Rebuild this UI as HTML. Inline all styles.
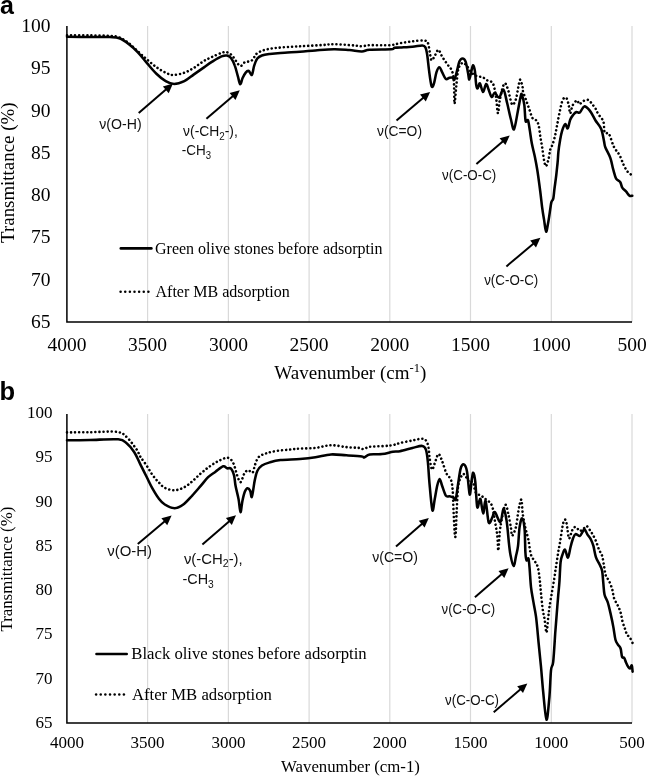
<!DOCTYPE html>
<html><head><meta charset="utf-8"><style>
html,body{margin:0;padding:0;background:#fff;}
svg{display:block;filter:grayscale(1);}

</style></head><body>
<svg width="646" height="776" viewBox="0 0 646 776">
<rect width="646" height="776" fill="#fff"/>
<text x="0" y="13.6" font-family="Liberation Sans" font-weight="bold" font-size="25">a</text>
<text x="-0.6" y="400.3" font-family="Liberation Sans" font-weight="bold" font-size="25.5">b</text>
<line x1="147.6" y1="26" x2="147.6" y2="322" stroke="#d9d9d9" stroke-width="1.2"/>
<line x1="228.4" y1="26" x2="228.4" y2="322" stroke="#d9d9d9" stroke-width="1.2"/>
<line x1="309.1" y1="26" x2="309.1" y2="322" stroke="#d9d9d9" stroke-width="1.2"/>
<line x1="389.8" y1="26" x2="389.8" y2="322" stroke="#d9d9d9" stroke-width="1.2"/>
<line x1="470.5" y1="26" x2="470.5" y2="322" stroke="#d9d9d9" stroke-width="1.2"/>
<line x1="551.3" y1="26" x2="551.3" y2="322" stroke="#d9d9d9" stroke-width="1.2"/>
<line x1="632.0" y1="26" x2="632.0" y2="322" stroke="#d9d9d9" stroke-width="1.2"/>
<path d="M67.0,35.3 C70.8,35.3 82.8,35.3 90.0,35.4 C97.2,35.5 105.1,35.6 110.0,35.9 C114.9,36.2 116.2,36.2 119.3,37.4 C122.4,38.6 125.5,40.7 128.6,43.0 C131.7,45.3 134.8,48.6 137.9,51.4 C141.0,54.2 144.1,57.1 147.2,59.7 C150.3,62.3 153.3,65.0 156.4,67.2 C159.5,69.4 162.9,71.4 165.7,72.7 C168.5,74.0 170.1,75.0 173.2,75.0 C176.3,75.0 180.9,73.9 184.3,72.7 C187.7,71.5 190.5,69.9 193.6,68.1 C196.7,66.2 199.8,63.5 202.9,61.6 C206.0,59.7 208.8,58.5 212.2,56.9 C215.6,55.3 220.6,53.0 223.3,52.3 C226.0,51.6 226.9,52.1 228.6,52.9 C230.3,53.7 231.4,54.9 233.3,57.1 C235.2,59.3 238.1,65.1 240.0,65.9 C241.9,66.8 243.1,63.0 244.9,62.2 C246.8,61.4 249.6,61.9 251.1,61.0 C252.6,60.1 253.2,58.4 254.2,57.1 C255.2,55.8 255.5,54.4 257.3,53.2 C259.1,52.0 261.6,50.7 265.0,49.8 C268.4,48.9 271.6,48.4 277.4,47.8 C283.2,47.2 292.4,46.8 300.0,46.3 C307.6,45.8 317.3,45.4 323.0,45.0 C328.7,44.6 328.8,44.1 334.0,44.2 C339.2,44.3 349.3,45.1 354.0,45.5 C358.7,45.9 359.4,46.3 362.0,46.3 C364.6,46.2 365.1,45.4 369.7,45.2 C374.3,45.0 384.8,45.5 389.8,45.2 C394.9,44.9 396.2,43.8 400.0,43.2 C403.8,42.6 408.4,41.9 412.4,41.4 C416.4,40.9 421.5,40.2 424.1,40.5 C426.7,40.8 427.0,41.1 427.9,43.0 C428.8,44.9 429.1,48.8 429.7,51.7 C430.3,54.6 430.7,59.8 431.6,60.3 C432.5,60.8 434.2,56.5 435.3,54.8 C436.4,53.0 437.3,49.5 438.4,49.8 C439.5,50.1 440.7,54.2 442.1,56.6 C443.6,59.0 445.5,61.6 447.1,64.0 C448.8,66.4 450.9,67.9 452.0,70.9 C453.1,73.9 453.5,76.5 453.9,82.0 C454.3,87.5 454.1,103.1 454.5,103.7 C454.9,104.3 455.7,91.4 456.3,85.7 C456.9,80.0 457.5,73.1 458.2,69.6 C458.9,66.1 459.9,65.8 460.7,64.7 C461.5,63.6 462.2,62.6 463.2,62.8 C464.2,63.0 465.6,64.4 466.9,65.9 C468.2,67.4 469.4,70.3 471.0,72.0 C472.6,73.7 474.3,75.1 476.2,76.0 C478.1,76.9 480.5,76.5 482.4,77.2 C484.2,77.9 485.6,79.3 487.3,80.3 C489.1,81.3 491.4,80.6 492.9,83.4 C494.3,86.2 495.2,92.0 496.0,97.0 C496.8,102.0 497.3,112.6 497.9,113.2 C498.5,113.8 498.9,105.1 499.7,100.8 C500.5,96.5 501.9,90.1 502.8,87.2 C503.7,84.3 504.4,82.8 505.3,83.4 C506.2,84.0 507.3,87.4 508.4,90.9 C509.5,94.4 510.9,103.1 512.1,104.5 C513.3,105.9 514.8,102.4 515.8,99.5 C516.8,96.6 517.6,90.5 518.3,87.2 C519.0,83.9 519.5,79.7 520.2,79.7 C520.9,79.7 522.1,85.2 522.6,87.2 C523.1,89.2 522.5,89.7 523.1,91.9 C523.7,94.1 525.2,97.6 526.2,100.5 C527.2,103.4 528.3,106.3 529.3,109.2 C530.3,112.1 531.3,116.1 532.4,117.9 C533.5,119.8 535.1,119.1 536.1,120.3 C537.1,121.5 537.9,122.5 538.6,125.3 C539.3,128.1 539.8,133.3 540.4,137.1 C541.0,140.9 541.7,144.3 542.3,148.2 C542.9,152.1 543.5,157.6 544.1,160.6 C544.7,163.6 545.3,166.4 546.0,166.2 C546.7,166.0 547.8,162.1 548.5,159.3 C549.2,156.5 549.6,152.0 550.3,149.4 C551.0,146.8 552.0,146.4 552.8,143.9 C553.6,141.4 554.6,137.8 555.3,134.6 C556.0,131.4 556.5,128.4 557.2,124.7 C557.9,121.0 558.7,116.4 559.6,112.3 C560.5,108.2 561.6,102.3 562.7,99.9 C563.8,97.5 565.4,97.0 566.4,98.0 C567.4,99.0 568.3,103.5 568.9,106.1 C569.5,108.7 569.6,113.6 570.2,113.5 C570.8,113.4 571.5,107.7 572.6,105.5 C573.7,103.3 575.9,100.7 577.0,100.5 C578.1,100.3 578.4,104.1 579.4,104.2 C580.4,104.3 581.8,101.8 583.2,101.1 C584.7,100.4 586.7,99.5 588.1,99.9 C589.5,100.3 590.6,102.1 591.8,103.6 C593.0,105.0 594.4,106.8 595.5,108.6 C596.6,110.4 597.0,112.1 598.3,114.2 C599.6,116.3 602.2,118.2 603.3,121.3 C604.4,124.4 603.8,130.5 604.7,132.6 C605.7,134.7 607.5,131.6 609.0,134.0 C610.5,136.4 612.1,143.2 613.9,146.8 C615.7,150.4 618.0,152.2 619.6,155.3 C621.2,158.4 622.4,162.4 623.8,165.2 C625.2,168.0 626.7,170.7 628.1,172.3 C629.5,174.0 631.6,174.6 632.3,175.1" fill="none" stroke="#000" stroke-width="2.6" stroke-dasharray="0.01 4.05" stroke-linecap="round" stroke-linejoin="round"/>
<path d="M67.0,36.8 C70.8,36.8 82.8,37.0 90.0,37.0 C97.2,37.0 105.1,36.9 110.0,37.1 C114.9,37.3 116.2,37.1 119.3,38.2 C122.4,39.3 125.5,41.5 128.6,43.9 C131.7,46.2 134.8,49.0 137.9,52.3 C141.0,55.5 144.1,59.8 147.2,63.4 C150.3,67.0 153.3,70.8 156.4,73.7 C159.5,76.7 162.8,79.4 165.7,81.1 C168.6,82.8 171.0,83.9 174.1,83.9 C177.2,83.9 181.1,82.6 184.3,81.1 C187.6,79.5 190.5,76.8 193.6,74.6 C196.7,72.4 199.8,70.3 202.9,68.1 C206.0,65.9 209.1,63.5 212.2,61.6 C215.3,59.7 219.0,57.4 221.5,56.4 C224.0,55.4 225.4,55.2 227.0,55.5 C228.6,55.8 229.7,56.2 231.0,57.9 C232.3,59.6 233.7,62.5 234.8,65.6 C236.0,68.7 237.0,73.3 237.9,76.4 C238.8,79.5 239.4,83.9 240.2,84.2 C241.0,84.5 241.7,79.9 242.6,78.0 C243.5,76.1 244.7,73.8 245.7,72.6 C246.7,71.4 247.8,70.6 248.8,71.0 C249.8,71.4 251.0,75.8 251.9,74.9 C252.8,74.0 253.3,68.3 254.2,65.6 C255.1,62.9 256.0,60.3 257.3,58.6 C258.6,56.9 259.8,56.3 261.9,55.5 C264.0,54.7 266.6,54.4 269.7,54.0 C272.8,53.6 275.4,53.3 280.5,52.9 C285.6,52.5 294.2,52.1 300.0,51.7 C305.8,51.3 309.8,50.8 315.5,50.4 C321.2,50.0 328.3,49.3 334.0,49.3 C339.7,49.2 344.9,49.8 349.5,50.1 C354.1,50.5 358.5,51.5 361.9,51.4 C365.3,51.3 364.8,50.1 369.7,49.8 C374.6,49.4 387.2,49.6 391.3,49.3 C395.4,49.0 392.9,48.1 394.4,47.8 C395.8,47.5 397.0,47.7 400.0,47.5 C403.0,47.3 408.7,47.0 412.4,46.7 C416.1,46.4 420.1,45.4 422.3,45.5 C424.5,45.6 424.6,45.8 425.4,47.3 C426.2,48.8 426.6,50.9 427.2,54.8 C427.8,58.7 428.4,65.7 429.1,70.9 C429.8,76.2 430.8,84.2 431.6,86.3 C432.4,88.4 433.2,85.7 434.0,83.3 C434.8,80.9 435.6,74.8 436.5,72.1 C437.4,69.4 438.5,67.2 439.4,67.2 C440.3,67.2 441.0,70.1 442.1,72.1 C443.2,74.0 444.6,78.0 445.8,78.9 C447.0,79.8 448.4,77.9 449.5,77.7 C450.6,77.5 451.8,77.4 452.6,77.7 C453.4,78.0 453.8,80.6 454.5,79.5 C455.2,78.4 456.2,73.9 457.0,70.9 C457.8,67.9 458.5,63.7 459.4,61.6 C460.3,59.5 461.5,58.5 462.5,58.5 C463.5,58.5 464.7,59.1 465.6,61.6 C466.5,64.1 467.5,70.3 468.1,73.3 C468.7,76.3 468.8,79.7 469.3,79.5 C469.8,79.3 470.6,74.5 471.2,72.1 C471.8,69.7 472.4,65.5 473.0,65.3 C473.6,65.1 474.4,67.7 474.9,70.9 C475.4,74.1 475.7,81.8 476.2,84.7 C476.7,87.6 477.1,88.6 477.7,88.4 C478.3,88.2 479.0,82.8 479.9,83.4 C480.8,84.0 482.0,92.0 483.0,92.1 C484.0,92.2 485.2,84.4 486.1,84.0 C487.0,83.6 487.7,87.4 488.6,89.6 C489.5,91.8 490.7,96.5 491.7,97.0 C492.7,97.5 493.6,92.6 494.8,92.7 C496.0,92.8 497.7,98.2 499.1,97.7 C500.5,97.2 502.0,88.7 503.4,89.6 C504.8,90.5 505.9,98.3 507.2,103.3 C508.4,108.2 509.8,115.0 510.9,119.3 C512.0,123.6 512.9,130.5 514.0,129.3 C515.1,128.1 516.6,117.5 517.7,111.9 C518.8,106.4 520.1,98.8 520.8,96.0 C521.5,93.2 521.3,93.5 521.9,95.0 C522.5,96.5 523.7,100.6 524.3,104.9 C524.9,109.2 525.0,118.4 525.6,121.0 C526.2,123.6 527.3,118.6 528.0,120.3 C528.7,122.0 529.3,127.1 529.9,130.9 C530.5,134.7 531.0,139.0 531.8,143.3 C532.6,147.6 534.0,152.5 534.9,156.9 C535.8,161.3 536.4,164.3 537.3,170.0 C538.2,175.7 539.4,184.8 540.2,191.0 C541.0,197.2 541.5,202.4 542.1,207.1 C542.7,211.8 543.3,215.3 544.0,219.4 C544.7,223.5 545.4,231.2 546.1,231.6 C546.8,232.0 547.6,225.6 548.3,221.9 C549.0,218.2 549.7,212.8 550.2,209.5 C550.7,206.2 550.9,203.9 551.4,202.1 C551.9,200.2 552.8,200.7 553.3,198.4 C553.8,196.1 554.0,192.4 554.5,188.5 C555.0,184.6 555.8,179.2 556.3,174.9 C556.8,170.6 557.2,166.3 557.6,162.5 C558.0,158.7 558.0,155.7 558.4,151.9 C558.8,148.1 559.6,143.0 560.2,139.5 C560.8,136.0 561.3,133.5 562.1,130.9 C562.9,128.3 564.3,124.5 565.2,124.1 C566.1,123.7 566.9,129.1 567.7,128.4 C568.5,127.7 569.3,122.0 570.2,119.7 C571.1,117.4 572.3,116.1 573.3,114.8 C574.3,113.5 575.3,112.4 576.4,112.0 C577.5,111.6 578.6,113.4 579.9,112.5 C581.2,111.6 582.6,106.7 584.2,106.4 C585.9,106.1 587.9,108.2 589.8,110.6 C591.7,112.9 593.6,117.4 595.5,120.5 C597.4,123.6 599.8,125.6 601.2,129.0 C602.6,132.4 603.3,138.0 604.0,141.1 C604.7,144.2 604.3,144.7 605.4,147.5 C606.5,150.3 609.1,154.4 610.4,158.1 C611.7,161.8 612.2,166.0 613.2,169.4 C614.2,172.8 614.9,176.5 616.1,178.6 C617.3,180.7 619.2,180.6 620.3,182.2 C621.3,183.8 621.4,186.4 622.4,187.9 C623.4,189.4 624.8,190.1 626.0,191.4 C627.2,192.7 628.5,195.0 629.5,195.7 C630.5,196.4 631.8,195.7 632.3,195.7" fill="none" stroke="#000" stroke-width="2.55" stroke-linejoin="round" stroke-linecap="round"/>
<path d="M66.9,26 L66.9,322 L632.0,322" fill="none" stroke="#000" stroke-width="1.5"/>
<text x="50.5" y="31.9" text-anchor="end" font-family="Liberation Serif" font-size="19.5">100</text>
<text x="50.5" y="74.2" text-anchor="end" font-family="Liberation Serif" font-size="19.5">95</text>
<text x="50.5" y="116.5" text-anchor="end" font-family="Liberation Serif" font-size="19.5">90</text>
<text x="50.5" y="158.8" text-anchor="end" font-family="Liberation Serif" font-size="19.5">85</text>
<text x="50.5" y="201.1" text-anchor="end" font-family="Liberation Serif" font-size="19.5">80</text>
<text x="50.5" y="243.3" text-anchor="end" font-family="Liberation Serif" font-size="19.5">75</text>
<text x="50.5" y="285.6" text-anchor="end" font-family="Liberation Serif" font-size="19.5">70</text>
<text x="50.5" y="327.9" text-anchor="end" font-family="Liberation Serif" font-size="19.5">65</text>
<text x="66.9" y="351.3" text-anchor="middle" font-family="Liberation Serif" font-size="19.5">4000</text>
<text x="147.6" y="351.3" text-anchor="middle" font-family="Liberation Serif" font-size="19.5">3500</text>
<text x="228.4" y="351.3" text-anchor="middle" font-family="Liberation Serif" font-size="19.5">3000</text>
<text x="309.1" y="351.3" text-anchor="middle" font-family="Liberation Serif" font-size="19.5">2500</text>
<text x="389.8" y="351.3" text-anchor="middle" font-family="Liberation Serif" font-size="19.5">2000</text>
<text x="470.5" y="351.3" text-anchor="middle" font-family="Liberation Serif" font-size="19.5">1500</text>
<text x="551.3" y="351.3" text-anchor="middle" font-family="Liberation Serif" font-size="19.5">1000</text>
<text x="632.0" y="351.3" text-anchor="middle" font-family="Liberation Serif" font-size="19.5">500</text>
<line x1="147.6" y1="414" x2="147.6" y2="723" stroke="#d9d9d9" stroke-width="1.2"/>
<line x1="228.4" y1="414" x2="228.4" y2="723" stroke="#d9d9d9" stroke-width="1.2"/>
<line x1="309.1" y1="414" x2="309.1" y2="723" stroke="#d9d9d9" stroke-width="1.2"/>
<line x1="389.8" y1="414" x2="389.8" y2="723" stroke="#d9d9d9" stroke-width="1.2"/>
<line x1="470.5" y1="414" x2="470.5" y2="723" stroke="#d9d9d9" stroke-width="1.2"/>
<line x1="551.3" y1="414" x2="551.3" y2="723" stroke="#d9d9d9" stroke-width="1.2"/>
<line x1="632.0" y1="414" x2="632.0" y2="723" stroke="#d9d9d9" stroke-width="1.2"/>
<path d="M67.0,432.4 C70.8,432.4 81.7,432.3 90.0,432.2 C98.3,432.1 110.8,431.0 117.0,431.9 C123.2,432.8 123.6,434.3 126.9,437.3 C130.2,440.3 134.6,446.6 136.8,449.7 C139.0,452.8 138.4,453.7 140.0,456.2 C141.6,458.7 144.1,461.8 146.2,464.9 C148.3,468.0 150.3,471.9 152.4,474.8 C154.5,477.7 156.5,480.0 158.6,482.2 C160.7,484.4 162.2,486.5 164.8,487.8 C167.4,489.1 171.0,490.2 174.1,490.2 C177.2,490.2 180.3,489.2 183.3,487.8 C186.3,486.4 189.1,484.0 192.0,481.6 C194.9,479.2 197.8,476.0 200.7,473.5 C203.6,471.0 206.3,468.8 209.3,466.7 C212.3,464.6 215.5,462.4 218.6,460.9 C221.7,459.4 225.4,457.4 227.9,457.8 C230.4,458.2 231.8,460.2 233.3,463.2 C234.9,466.2 236.0,472.5 237.2,475.6 C238.4,478.8 239.4,482.4 240.6,482.1 C241.8,481.8 242.9,476.0 244.1,474.0 C245.3,472.0 246.6,470.4 248.0,470.2 C249.4,469.9 251.4,473.4 252.6,472.5 C253.8,471.6 254.0,467.4 255.0,464.8 C256.0,462.2 256.9,458.9 258.8,457.0 C260.7,455.1 263.5,454.2 266.6,453.2 C269.7,452.2 273.5,451.4 277.4,450.8 C281.3,450.2 286.0,450.0 289.8,449.6 C293.6,449.2 295.7,448.9 300.0,448.6 C304.3,448.3 310.3,448.5 315.5,447.9 C320.7,447.3 325.9,445.3 331.0,445.2 C336.1,445.1 341.8,446.7 346.4,447.1 C351.0,447.6 355.9,447.6 358.8,447.9 C361.7,448.2 362.0,449.3 363.8,449.1 C365.6,448.9 366.1,447.3 369.7,446.8 C373.2,446.3 381.2,446.3 385.1,446.0 C389.0,445.7 390.4,445.6 392.9,445.1 C395.4,444.6 396.8,443.8 400.0,443.0 C403.2,442.2 408.8,441.2 412.4,440.5 C416.0,439.8 419.4,438.7 421.7,438.7 C424.0,438.7 424.9,439.1 426.0,440.5 C427.1,441.9 427.9,444.3 428.5,447.3 C429.1,450.3 429.1,454.8 429.7,458.5 C430.3,462.2 431.2,468.8 432.0,469.6 C432.8,470.4 433.6,466.0 434.7,463.4 C435.8,460.8 437.2,454.5 438.4,454.1 C439.6,453.7 440.8,457.8 442.1,461.0 C443.4,464.2 444.9,470.2 446.4,473.3 C447.8,476.4 449.8,476.8 450.8,479.5 C451.8,482.2 452.2,484.3 452.6,489.4 C453.1,494.5 453.1,502.1 453.5,510.0 C453.9,517.9 454.7,538.0 455.3,537.0 C455.9,536.0 456.5,512.9 457.0,504.3 C457.5,495.8 457.6,490.1 458.2,485.7 C458.8,481.3 459.8,479.6 460.7,477.7 C461.6,475.8 462.4,473.3 463.8,474.0 C465.2,474.7 467.8,480.7 469.3,482.0 C470.8,483.3 471.9,480.3 473.0,482.0 C474.1,483.7 474.4,490.1 475.7,492.4 C477.0,494.6 479.1,494.5 480.7,495.5 C482.2,496.5 483.1,497.0 485.0,498.6 C486.9,500.2 490.2,501.7 491.8,505.4 C493.4,509.1 494.0,515.8 494.9,520.9 C495.8,526.0 496.7,530.8 497.3,535.7 C497.9,540.7 497.9,551.2 498.3,550.6 C498.7,550.0 499.2,537.2 499.8,532.0 C500.4,526.8 500.8,524.1 501.7,519.6 C502.6,515.1 504.3,505.6 505.4,504.8 C506.5,504.0 507.6,510.8 508.5,514.7 C509.4,518.6 510.4,524.8 511.0,528.3 C511.6,531.8 511.4,535.9 512.2,535.7 C513.0,535.5 515.0,530.6 515.9,527.1 C516.8,523.6 517.2,518.4 517.8,514.7 C518.4,511.0 519.0,507.3 519.6,504.8 C520.2,502.3 521.0,498.4 521.5,499.8 C522.0,501.2 522.1,508.8 522.7,513.4 C523.3,517.9 524.3,522.8 525.2,527.1 C526.1,531.4 527.3,534.8 528.3,539.4 C529.3,544.0 529.9,551.3 531.0,554.9 C532.1,558.5 533.6,559.0 534.7,561.1 C535.8,563.2 537.0,564.3 537.8,567.2 C538.6,570.1 539.1,574.3 539.6,578.4 C540.1,582.5 540.4,586.9 540.9,592.0 C541.4,597.1 542.1,604.8 542.7,609.3 C543.3,613.8 544.0,615.4 544.6,619.3 C545.2,623.2 545.9,633.0 546.5,632.6 C547.1,632.2 547.8,621.1 548.3,616.8 C548.8,612.5 548.9,611.0 549.5,606.9 C550.1,602.8 551.2,597.0 552.0,592.0 C552.8,587.0 553.8,581.7 554.5,577.2 C555.2,572.7 555.7,568.9 556.3,564.8 C556.9,560.7 557.6,556.2 558.2,552.4 C558.8,548.6 559.3,546.7 560.1,541.9 C560.9,537.1 562.2,527.3 563.1,523.6 C564.0,519.9 564.9,519.1 565.6,519.9 C566.3,520.7 566.9,525.5 567.4,528.6 C567.9,531.7 568.3,537.7 568.9,538.5 C569.5,539.3 570.4,535.1 571.1,533.5 C571.8,531.9 572.2,529.7 573.0,528.6 C573.8,527.5 575.0,526.7 576.1,527.1 C577.2,527.5 578.6,530.8 579.8,531.0 C581.0,531.2 582.4,529.4 583.5,528.6 C584.6,527.8 585.6,525.9 586.6,526.1 C587.6,526.3 588.7,528.3 589.7,529.8 C590.7,531.2 591.8,532.9 592.8,534.8 C593.8,536.7 594.9,538.5 595.9,541.0 C596.9,543.5 598.0,547.1 599.0,549.6 C600.0,552.1 601.3,553.1 602.1,555.8 C602.9,558.5 603.4,562.4 604.0,565.7 C604.6,569.0 605.0,573.1 605.8,575.6 C606.6,578.1 607.8,578.3 608.9,580.6 C610.0,582.9 611.3,586.3 612.2,589.3 C613.1,592.2 613.1,595.5 614.1,598.3 C615.1,601.1 616.9,603.6 618.0,606.0 C619.1,608.4 619.9,609.9 620.6,612.5 C621.4,615.1 621.8,618.7 622.5,621.5 C623.2,624.3 624.4,627.1 625.1,629.2 C625.9,631.4 626.1,632.9 627.0,634.4 C627.9,635.9 629.3,636.8 630.2,638.2 C631.1,639.7 632.2,642.3 632.6,643.1" fill="none" stroke="#000" stroke-width="2.6" stroke-dasharray="0.01 4.05" stroke-linecap="round" stroke-linejoin="round"/>
<path d="M67.0,440.3 C70.8,440.2 81.5,440.2 90.0,440.0 C98.5,439.8 112.0,438.7 118.2,439.3 C124.4,439.9 124.2,441.4 126.9,443.5 C129.6,445.6 132.1,448.8 134.3,452.2 C136.5,455.6 138.0,459.6 140.0,463.6 C142.0,467.6 144.1,471.9 146.2,476.0 C148.3,480.1 150.3,484.7 152.4,488.4 C154.5,492.1 156.5,495.6 158.6,498.3 C160.7,501.0 162.1,502.9 164.8,504.5 C167.5,506.1 171.6,508.2 174.7,508.2 C177.8,508.2 180.4,506.6 183.3,504.5 C186.2,502.4 189.1,498.9 192.0,495.8 C194.9,492.7 198.0,489.0 200.7,485.9 C203.4,482.8 205.6,479.6 208.1,477.2 C210.6,474.8 213.0,473.5 215.5,471.7 C218.0,469.9 221.3,466.9 223.2,466.3 C225.1,465.7 225.8,467.9 227.1,468.3 C228.4,468.7 229.8,467.4 231.0,468.6 C232.2,469.8 233.3,472.8 234.1,475.6 C234.8,478.4 234.8,481.5 235.5,485.5 C236.2,489.5 237.8,494.9 238.6,499.4 C239.4,503.8 239.9,511.9 240.5,512.2 C241.1,512.5 241.7,504.4 242.4,501.0 C243.1,497.6 244.0,493.8 244.8,491.7 C245.7,489.6 246.6,488.3 247.5,488.2 C248.4,488.1 249.5,489.4 250.2,490.9 C250.9,492.4 251.2,497.4 251.7,497.1 C252.2,496.8 252.8,492.1 253.3,489.3 C253.8,486.5 254.1,483.2 254.8,480.1 C255.5,477.1 256.1,473.4 257.3,471.0 C258.5,468.6 259.8,466.9 261.9,465.5 C264.0,464.1 266.6,463.3 269.7,462.4 C272.8,461.5 275.4,460.7 280.5,460.1 C285.6,459.5 294.2,459.5 300.0,459.0 C305.8,458.5 310.3,458.0 315.5,457.2 C320.7,456.4 325.9,454.7 331.0,454.4 C336.1,454.1 341.2,455.0 346.4,455.3 C351.5,455.6 358.9,456.0 361.9,456.4 C364.9,456.8 362.9,457.8 364.2,457.5 C365.5,457.2 366.7,455.0 369.7,454.4 C372.7,453.8 378.1,454.6 382.0,454.1 C385.9,453.7 389.9,452.2 392.9,451.7 C395.9,451.2 396.8,451.8 400.0,451.2 C403.2,450.6 408.7,448.9 412.4,448.0 C416.1,447.1 420.0,445.6 422.3,445.9 C424.6,446.2 425.1,447.1 426.0,449.8 C426.9,452.5 427.3,456.2 427.9,462.2 C428.5,468.2 428.9,477.7 429.7,485.7 C430.4,493.7 431.6,508.0 432.4,510.3 C433.2,512.6 433.9,503.4 434.7,499.3 C435.5,495.2 436.4,489.1 437.2,485.7 C438.0,482.3 438.8,478.9 439.6,478.9 C440.4,478.9 441.1,482.9 442.1,485.7 C443.1,488.5 444.6,493.8 445.8,495.6 C447.0,497.4 448.2,496.0 449.5,496.3 C450.8,496.6 452.3,497.0 453.3,497.5 C454.3,498.0 454.9,501.7 455.7,499.3 C456.5,496.9 457.4,488.5 458.2,483.3 C459.0,478.1 459.8,471.5 460.7,468.4 C461.6,465.2 462.8,464.0 463.8,464.4 C464.8,464.8 466.1,467.1 466.9,470.9 C467.7,474.7 468.2,483.1 468.7,487.0 C469.2,490.9 469.5,495.6 470.0,494.4 C470.5,493.1 471.2,483.1 471.8,479.5 C472.4,475.9 472.7,472.3 473.3,472.7 C473.9,473.1 474.7,476.3 475.3,482.0 C475.9,487.7 476.5,503.8 477.2,507.0 C477.9,510.2 478.7,502.2 479.3,501.0 C479.9,499.8 480.1,497.7 480.7,499.8 C481.3,501.9 482.4,513.2 483.2,513.4 C484.0,513.6 484.7,499.5 485.6,501.0 C486.5,502.5 487.6,519.8 488.7,522.5 C489.8,525.2 491.4,518.9 492.4,517.2 C493.4,515.5 493.6,511.4 494.9,512.2 C496.2,513.0 499.0,522.7 500.4,522.1 C501.8,521.5 502.5,508.7 503.5,508.5 C504.5,508.3 505.7,515.5 506.6,520.9 C507.5,526.3 508.1,535.3 508.7,541.0 C509.3,546.7 509.7,550.8 510.5,555.0 C511.3,559.2 512.7,565.8 513.6,566.0 C514.5,566.2 515.3,559.3 516.0,556.0 C516.7,552.7 517.4,551.0 518.0,546.2 C518.6,541.4 518.9,531.7 519.6,527.1 C520.3,522.5 521.3,518.0 522.1,518.4 C522.9,518.8 524.1,523.8 524.6,529.5 C525.1,535.2 525.1,547.2 525.4,552.4 C525.7,557.5 526.1,559.4 526.6,560.4 C527.1,561.4 528.0,557.0 528.5,558.6 C529.0,560.2 529.3,565.0 529.7,569.7 C530.1,574.5 530.4,581.7 531.0,587.1 C531.6,592.5 532.6,597.0 533.4,601.9 C534.2,606.8 535.1,610.1 536.0,616.7 C536.9,623.4 537.7,633.4 538.5,641.8 C539.3,650.2 540.2,658.5 541.0,666.9 C541.8,675.3 542.3,683.2 543.2,692.0 C544.1,700.8 545.5,718.9 546.5,719.7 C547.5,720.6 548.6,705.3 549.4,697.1 C550.1,688.9 550.4,676.2 551.0,670.3 C551.6,664.4 552.5,668.0 553.2,661.9 C553.9,655.8 554.7,641.0 555.2,633.5 C555.8,626.0 556.0,623.1 556.5,616.8 C557.0,610.5 557.7,601.5 558.2,595.7 C558.7,589.9 559.0,587.7 559.4,582.1 C559.8,576.5 560.1,566.6 560.6,562.0 C561.1,557.4 561.8,556.7 562.5,554.6 C563.2,552.5 564.1,549.1 565.0,549.6 C565.9,550.1 567.1,558.1 568.0,557.7 C568.9,557.3 569.7,550.4 570.5,547.2 C571.3,544.0 572.2,540.7 573.0,538.5 C573.8,536.3 574.4,534.5 575.5,534.1 C576.6,533.7 578.7,536.3 579.8,536.0 C580.9,535.7 581.5,533.4 582.3,532.3 C583.1,531.2 583.7,528.9 584.5,529.2 C585.3,529.5 586.1,532.4 587.2,534.1 C588.3,535.9 590.0,537.7 591.0,539.7 C592.0,541.7 592.6,543.0 593.4,545.9 C594.2,548.8 594.9,554.0 595.9,557.1 C596.9,560.2 598.6,562.2 599.6,564.5 C600.6,566.8 601.5,567.6 602.1,570.7 C602.7,573.8 602.9,578.9 603.3,582.9 C603.7,586.9 603.8,591.3 604.5,594.5 C605.2,597.7 606.6,598.8 607.7,602.2 C608.8,605.6 609.9,610.8 610.9,615.1 C611.9,619.4 612.8,623.8 613.5,627.9 C614.2,632.0 614.7,636.7 615.4,639.5 C616.1,642.3 617.0,643.1 617.9,644.6 C618.8,646.1 619.9,646.4 620.6,648.5 C621.3,650.6 621.5,655.5 622.1,657.0 C622.7,658.5 623.5,656.9 624.1,657.8 C624.8,658.7 625.3,660.8 626.0,662.4 C626.7,664.0 627.6,666.1 628.3,667.1 C629.0,668.1 629.6,668.6 630.2,668.3 C630.8,668.0 631.4,664.9 631.8,665.5 C632.2,666.1 632.5,670.7 632.6,671.7" fill="none" stroke="#000" stroke-width="2.55" stroke-linejoin="round" stroke-linecap="round"/>
<path d="M66.9,414 L66.9,723 L632.0,723" fill="none" stroke="#000" stroke-width="1.5"/>
<text x="52.5" y="417.9" text-anchor="end" font-family="Liberation Serif" font-size="17">100</text>
<text x="52.5" y="462.2" text-anchor="end" font-family="Liberation Serif" font-size="17">95</text>
<text x="52.5" y="506.5" text-anchor="end" font-family="Liberation Serif" font-size="17">90</text>
<text x="52.5" y="550.8" text-anchor="end" font-family="Liberation Serif" font-size="17">85</text>
<text x="52.5" y="595.1" text-anchor="end" font-family="Liberation Serif" font-size="17">80</text>
<text x="52.5" y="639.3" text-anchor="end" font-family="Liberation Serif" font-size="17">75</text>
<text x="52.5" y="683.6" text-anchor="end" font-family="Liberation Serif" font-size="17">70</text>
<text x="52.5" y="727.9" text-anchor="end" font-family="Liberation Serif" font-size="17">65</text>
<text x="66.9" y="748" text-anchor="middle" font-family="Liberation Serif" font-size="17">4000</text>
<text x="147.6" y="748" text-anchor="middle" font-family="Liberation Serif" font-size="17">3500</text>
<text x="228.4" y="748" text-anchor="middle" font-family="Liberation Serif" font-size="17">3000</text>
<text x="309.1" y="748" text-anchor="middle" font-family="Liberation Serif" font-size="17">2500</text>
<text x="389.8" y="748" text-anchor="middle" font-family="Liberation Serif" font-size="17">2000</text>
<text x="470.5" y="748" text-anchor="middle" font-family="Liberation Serif" font-size="17">1500</text>
<text x="551.3" y="748" text-anchor="middle" font-family="Liberation Serif" font-size="17">1000</text>
<text x="632.0" y="748" text-anchor="middle" font-family="Liberation Serif" font-size="17">500</text>
<text x="350.3" y="378.7" text-anchor="middle" font-family="Liberation Serif" font-size="19">Wavenumber (cm<tspan font-size="12.5" dy="-7">-1</tspan><tspan dy="7">)</tspan></text>
<text x="350.5" y="772.4" text-anchor="middle" font-family="Liberation Serif" font-size="16.8">Wavenumber (cm-1)</text>
<text transform="translate(14.2,172.7) rotate(-90)" text-anchor="middle" font-family="Liberation Serif" font-size="18.9">Transmittance (%)</text>
<text transform="translate(12.3,569.1) rotate(-90)" text-anchor="middle" font-family="Liberation Serif" font-size="16.8">Transmittance (%)</text>
<line x1="120.8" y1="248.4" x2="151.4" y2="248.4" stroke="#000" stroke-width="2.6" stroke-linecap="round"/>
<text x="155" y="253.8" font-family="Liberation Serif" font-size="16">Green olive stones before adsorptin</text>
<circle cx="120.60" cy="291.7" r="1.25"/><circle cx="125.23" cy="291.7" r="1.25"/><circle cx="129.87" cy="291.7" r="1.25"/><circle cx="134.50" cy="291.7" r="1.25"/><circle cx="139.13" cy="291.7" r="1.25"/><circle cx="143.76" cy="291.7" r="1.25"/><circle cx="148.40" cy="291.7" r="1.25"/>
<text x="155.5" y="297.3" font-family="Liberation Serif" font-size="16">After MB adsorption</text>
<line x1="96.5" y1="654" x2="126.7" y2="654" stroke="#000" stroke-width="2.6" stroke-linecap="round"/>
<text x="131.3" y="659.1" font-family="Liberation Serif" font-size="16.7">Black olive stones before adsorptin</text>
<circle cx="96.10" cy="694.4" r="1.25"/><circle cx="100.73" cy="694.4" r="1.25"/><circle cx="105.37" cy="694.4" r="1.25"/><circle cx="110.00" cy="694.4" r="1.25"/><circle cx="114.63" cy="694.4" r="1.25"/><circle cx="119.26" cy="694.4" r="1.25"/><circle cx="123.90" cy="694.4" r="1.25"/>
<text x="131.9" y="699.8" font-family="Liberation Serif" font-size="16.7">After MB adsorption</text>
<line x1="138.7" y1="113.0" x2="166.5" y2="89.1" stroke="#000" stroke-width="2.0"/><path d="M173.0,83.6 L168.7,93.2 L162.9,86.4 Z" fill="#000"/>
<text transform="translate(99.30,128.80) scale(0.9952,1)" font-family="Liberation Sans" font-size="14.2" fill="#111">ν(O-H)</text>
<line x1="206.4" y1="118.7" x2="233.3" y2="95.8" stroke="#000" stroke-width="2.0"/><path d="M239.8,90.3 L235.5,99.9 L229.6,93.0 Z" fill="#000"/>
<text transform="translate(183.10,136.00) scale(0.9764,1)" font-family="Liberation Sans" font-size="14.2" fill="#111">ν(-CH<tspan font-size="10.08" dy="3.55">2</tspan><tspan dy="-3.55">-),</tspan></text>
<text transform="translate(181.65,155.00) scale(0.9517,1)" font-family="Liberation Sans" font-size="14.2" fill="#111">-CH<tspan font-size="10.08" dy="3.55">3</tspan></text>
<line x1="396.5" y1="120.6" x2="423.6" y2="97.4" stroke="#000" stroke-width="2.0"/><path d="M430.1,91.9 L425.8,101.5 L420.0,94.6 Z" fill="#000"/>
<text transform="translate(377.00,135.80) scale(0.9756,1)" font-family="Liberation Sans" font-size="14.2" fill="#111">ν(C=O)</text>
<line x1="476.4" y1="164.1" x2="503.3" y2="141.0" stroke="#000" stroke-width="2.0"/><path d="M509.7,135.5 L505.4,145.1 L499.6,138.3 Z" fill="#000"/>
<text transform="translate(442.10,179.60) scale(0.9421,1)" font-family="Liberation Sans" font-size="14.2" fill="#111">ν(C-O-C)</text>
<line x1="506.4" y1="266.4" x2="533.9" y2="243.3" stroke="#000" stroke-width="2.0"/><path d="M540.4,237.8 L536.0,247.4 L530.2,240.5 Z" fill="#000"/>
<text transform="translate(484.20,284.70) scale(0.9404,1)" font-family="Liberation Sans" font-size="14.2" fill="#111">ν(C-O-C)</text>
<line x1="137.8" y1="544.1" x2="165.1" y2="521.1" stroke="#000" stroke-width="2.0"/><path d="M171.6,515.6 L167.2,525.2 L161.4,518.3 Z" fill="#000"/>
<text transform="translate(107.20,556.40) scale(1.0045,1)" font-family="Liberation Sans" font-size="14.9" fill="#111">ν(O-H)</text>
<line x1="202.4" y1="544.4" x2="229.6" y2="520.9" stroke="#000" stroke-width="2.0"/><path d="M236.0,515.3 L231.8,524.9 L225.9,518.1 Z" fill="#000"/>
<text transform="translate(183.90,563.60) scale(1.0000,1)" font-family="Liberation Sans" font-size="14.9" fill="#111">ν(-CH<tspan font-size="10.58" dy="3.73">2</tspan><tspan dy="-3.73">-),</tspan></text>
<text transform="translate(182.43,583.80) scale(0.9677,1)" font-family="Liberation Sans" font-size="14.9" fill="#111">-CH<tspan font-size="10.58" dy="3.73">3</tspan></text>
<line x1="396.0" y1="546.4" x2="422.4" y2="523.6" stroke="#000" stroke-width="2.0"/><path d="M428.8,518.0 L424.6,527.6 L418.7,520.8 Z" fill="#000"/>
<text transform="translate(372.20,561.90) scale(0.9458,1)" font-family="Liberation Sans" font-size="14.9" fill="#111">ν(C=O)</text>
<line x1="474.9" y1="597.2" x2="502.1" y2="573.8" stroke="#000" stroke-width="2.0"/><path d="M508.6,568.3 L504.3,577.9 L498.5,571.1 Z" fill="#000"/>
<text transform="translate(441.60,613.80) scale(0.8867,1)" font-family="Liberation Sans" font-size="14.9" fill="#111">ν(C-O-C)</text>
<line x1="493.7" y1="712.3" x2="520.8" y2="689.0" stroke="#000" stroke-width="2.0"/><path d="M527.3,683.5 L523.0,693.1 L517.2,686.3 Z" fill="#000"/>
<text transform="translate(445.10,704.80) scale(0.8933,1)" font-family="Liberation Sans" font-size="14.9" fill="#111">ν(C-O-C)</text>
</svg>
</body></html>
